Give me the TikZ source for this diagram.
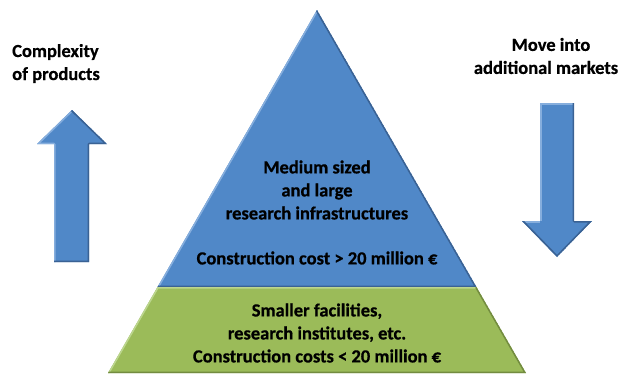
\documentclass[tikz,border=0pt]{standalone}
\usepackage{fontspec}
\setmainfont{Carlito}[BoldFeatures={FakeBold=0.6}]
\definecolor{pyblue}{HTML}{5088C8}
\definecolor{pybluelight}{HTML}{86AEDD}
\definecolor{pybluedark}{HTML}{3A6294}
\definecolor{pygreen}{HTML}{9BBB59}
\definecolor{pygreenlight}{HTML}{BCD68E}
\definecolor{pygreendark}{HTML}{738C40}
\begin{document}
\begin{tikzpicture}[x=1pt,y=-1pt,
  lbl/.style={font=\bfseries\fontsize{18.5}{23}\selectfont, inner sep=0pt, text=black},
  hilite/.style={line width=3pt, line join=round},
]
\useasboundingbox (0,0) rectangle (624,375);

% pyramid corners
\coordinate (apex) at (317,10);
\coordinate (ml) at (157.5,287);
\coordinate (mr) at (476.5,287);
\coordinate (bl) at (108,373);
\coordinate (br) at (526,373);

% upper (blue) tier
\begin{scope}
  \clip (apex) -- (mr) -- (ml) -- cycle;
  \fill[pyblue] (apex) -- (mr) -- (ml) -- cycle;
  \draw[hilite, pybluelight] (ml) -- (apex);
  \draw[hilite, pybluedark] (apex) -- (mr) -- (ml);
\end{scope}

% lower (green) tier
\begin{scope}
  \clip (ml) -- (mr) -- (br) -- (bl) -- cycle;
  \fill[pygreen] (ml) -- (mr) -- (br) -- (bl) -- cycle;
  \draw[hilite, pygreenlight] (bl) -- (ml) -- (mr);
  \draw[hilite, pygreendark] (mr) -- (br) -- (bl);
\end{scope}

% upward arrow
\coordinate (ut) at (72,110);
\coordinate (uhr) at (107,144);
\coordinate (usr) at (89,144);
\coordinate (ubr) at (89,262);
\coordinate (ubl) at (54,262);
\coordinate (usl) at (54,144);
\coordinate (uhl) at (37,144);
\begin{scope}
  \clip (ut) -- (uhr) -- (usr) -- (ubr) -- (ubl) -- (usl) -- (uhl) -- cycle;
  \fill[pyblue] (ut) -- (uhr) -- (usr) -- (ubr) -- (ubl) -- (usl) -- (uhl) -- cycle;
  \draw[hilite, pybluelight] (ubl) -- (usl) -- (uhl) -- (ut);
  \draw[hilite, pybluedark] (ut) -- (uhr) -- (usr) -- (ubr) -- (ubl);
\end{scope}

% downward arrow
\coordinate (dtl) at (540,103);
\coordinate (dtr) at (574,103);
\coordinate (dsr) at (574,221);
\coordinate (dhr) at (592,221);
\coordinate (dt) at (557,257);
\coordinate (dhl) at (522,221);
\coordinate (dsl) at (540,221);
\begin{scope}
  \clip (dtl) -- (dtr) -- (dsr) -- (dhr) -- (dt) -- (dhl) -- (dsl) -- cycle;
  \fill[pyblue] (dtl) -- (dtr) -- (dsr) -- (dhr) -- (dt) -- (dhl) -- (dsl) -- cycle;
  \draw[hilite, pybluelight] (dsl) -- (dtl) -- (dtr);
  \draw[hilite, pybluelight] (dhl) -- (dsl);
  \draw[hilite, pybluedark] (dtr) -- (dsr) -- (dhr) -- (dt) -- (dhl);
\end{scope}

% labels
\node[lbl, align=left, anchor=west] (complexity) at (12,63.5) {Complexity\\of products};
\node[lbl, align=center] (markets) at (546,56) {\hspace*{10pt}Move into\\additional markets};
\node[lbl, align=center] (upper) at (317,190) {Medium sized\\and large\\research infrastructures};
\node[lbl] (uppercost) at (317,258) {Construction cost > 20 million €};
\node[lbl, align=center] (lower) at (317,333) {Smaller facilities,\\research institutes, etc.\\Construction costs < 20 million €};
\end{tikzpicture}
\end{document}
